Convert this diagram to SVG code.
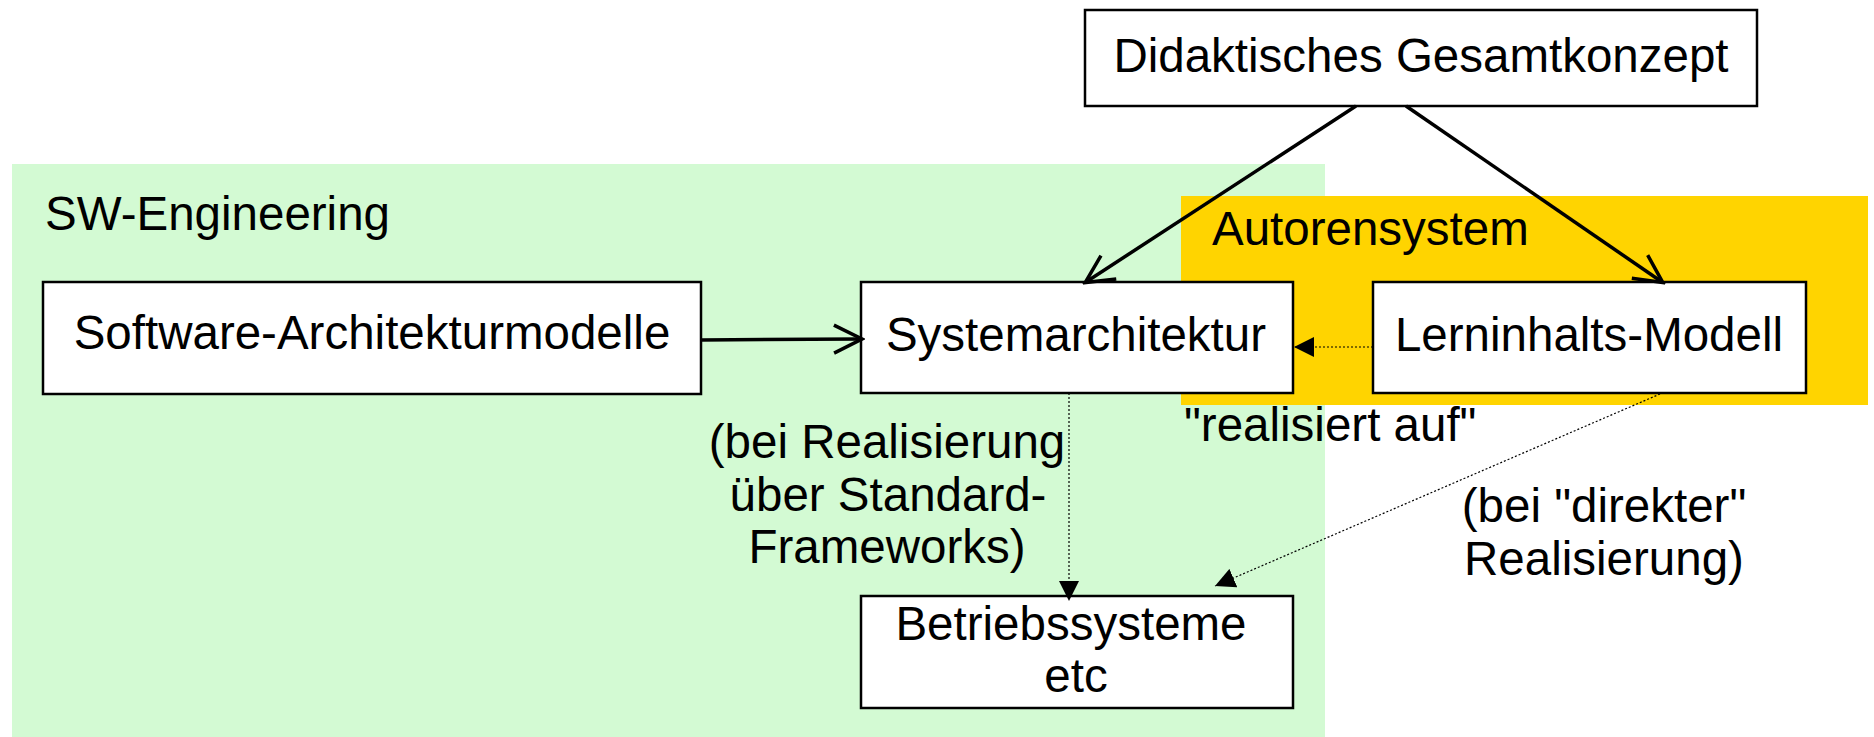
<svg xmlns="http://www.w3.org/2000/svg" width="1874" height="737" viewBox="0 0 1874 737">
<style>
text{font-family:"Liberation Sans",Arial,Helvetica,sans-serif;font-size:47.5px;fill:#000}
.box{fill:#fff;stroke:#000;stroke-width:2.5}
.solid{stroke:#000;stroke-width:3.5;fill:none}
.dot{stroke:#000;stroke-width:1.2;stroke-dasharray:2 2;fill:none}
.c{text-anchor:middle}
</style>
<defs>
<marker id="open" viewBox="-2 -2 33 33" refX="27" refY="14" markerWidth="33" markerHeight="33" markerUnits="userSpaceOnUse" orient="auto">
<path d="M0,0 L28,14 L0,28" fill="none" stroke="#000" stroke-width="3.5"/>
</marker>
<marker id="fill" viewBox="0 0 20 20" refX="20" refY="10" markerWidth="20" markerHeight="20" markerUnits="userSpaceOnUse" orient="auto">
<path d="M0,0 L20,10 L0,20 Z" fill="#000"/>
</marker>
</defs>
<rect width="1874" height="737" fill="#fff"/>
<g id="sw-engineering">
<rect x="12" y="164" width="1313" height="573" fill="#d3fad3"/>
<text x="45" y="230">SW-Engineering</text>
</g>
<g id="autorensystem">
<rect x="1181" y="196" width="687" height="209" fill="#ffd400"/>
<text x="1212" y="245">Autorensystem</text>
</g>
<g id="didaktisches">
<rect class="box" x="1085" y="10" width="672" height="96"/>
<text class="c" x="1421" y="72">Didaktisches Gesamtkonzept</text>
</g>
<g id="software-architekturmodelle">
<rect class="box" x="43" y="282" width="658" height="112"/>
<text class="c" x="372" y="349">Software-Architekturmodelle</text>
</g>
<g id="systemarchitektur">
<rect class="box" x="861" y="282" width="432" height="111"/>
<text class="c" x="1076" y="351">Systemarchitektur</text>
</g>
<g id="lerninhalts-modell">
<rect class="box" x="1373" y="282" width="433" height="111"/>
<text class="c" x="1589" y="351">Lerninhalts-Modell</text>
</g>
<g id="betriebssysteme">
<rect class="box" x="861" y="596" width="432" height="112"/>
<text class="c" x="1071" y="640">Betriebssysteme</text>
<text class="c" x="1076" y="692">etc</text>
</g>
<g id="connectors">
<line class="solid" x1="1356" y1="106" x2="1086" y2="282" marker-end="url(#open)"/>
<line class="solid" x1="1406" y1="106" x2="1662" y2="282" marker-end="url(#open)"/>
<line class="solid" x1="701" y1="340" x2="861" y2="339" marker-end="url(#open)"/>
<line class="dot" x1="1373" y1="347" x2="1294" y2="347" marker-end="url(#fill)"/>
<line class="dot" x1="1069" y1="393" x2="1069" y2="601" marker-end="url(#fill)"/>
<line class="dot" x1="1660" y1="394" x2="1215" y2="586" marker-end="url(#fill)"/>
</g>
<g id="labels">
<text x="1184" y="441">"realisiert auf"</text>
<text class="c" x="887" y="458">(bei Realisierung</text>
<text class="c" x="888" y="511">über Standard-</text>
<text class="c" x="887" y="563">Frameworks)</text>
<text class="c" x="1604" y="522">(bei "direkter"</text>
<text class="c" x="1604" y="575">Realisierung)</text>
</g>
</svg>
